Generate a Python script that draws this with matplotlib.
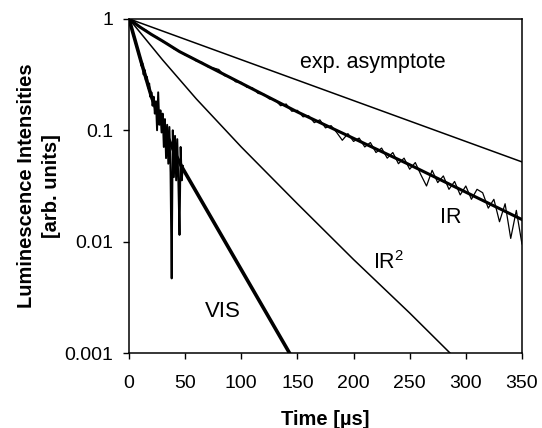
import numpy as np
import matplotlib
matplotlib.use("Agg")
from matplotlib import pyplot as plt

plt.rcParams['font.family'] = ['Liberation Sans', 'DejaVu Sans']
plt.rcParams['mathtext.fontset'] = 'custom'
plt.rcParams['mathtext.rm'] = 'Liberation Sans'

# VIS luminescence trace (noisy), 1 us steps
vis_t = np.arange(0, 49, 1)
vis_data = [1.0, 0.933, 0.832, 0.794, 0.708, 0.676, 0.603, 0.562, 0.525, 0.468,
            0.447, 0.380, 0.398, 0.316, 0.347, 0.282, 0.302, 0.240, 0.263, 0.200,
            0.219, 0.166, 0.200, 0.141, 0.182, 0.100, 0.219, 0.112, 0.151, 0.0955,
            0.141, 0.0708, 0.126, 0.0562, 0.112, 0.0501, 0.107, 0.0417, 0.00468, 0.100,
            0.0380, 0.0891, 0.0355, 0.0832, 0.0331, 0.0115, 0.0708, 0.0355, 0.0479]

# VIS fit curve
vis_fit_t = [0, 10, 20, 30, 40, 47, 143]
vis_fit = [1.0, 0.44, 0.20, 0.11, 0.065, 0.047, 0.001]

# IR luminescence trace (noisy), 5 us steps
ir_t = np.arange(0, 351, 5)
ir_data = [1.0, 0.923, 0.832, 0.794, 0.716, 0.684, 0.624, 0.596, 0.537, 0.513,
           0.473, 0.457, 0.417, 0.407, 0.372, 0.363, 0.351, 0.309, 0.302, 0.272,
           0.269, 0.243, 0.240, 0.214, 0.211, 0.191, 0.188, 0.166, 0.172, 0.148,
           0.151, 0.132, 0.135, 0.117, 0.124, 0.105, 0.110, 0.0955, 0.0813, 0.0933,
           0.0794, 0.0851, 0.0708, 0.0776, 0.0631, 0.0692, 0.0562, 0.0631, 0.0501, 0.0562,
           0.0447, 0.0513, 0.0398, 0.0316, 0.0437, 0.0339, 0.0389, 0.0295, 0.0347, 0.0263,
           0.0316, 0.0240, 0.0295, 0.0275, 0.0200, 0.0240, 0.0151, 0.0219, 0.0107, 0.0191,
           0.00955]

# IR fit, IR squared and exponential asymptote
ir_fit_t = [0, 10, 20, 30, 45, 150, 250, 350]
ir_fit = [1.0, 0.841, 0.724, 0.631, 0.508, 0.146, 0.049, 0.0158]
ir2_t = [0, 30, 60, 100, 150, 200, 250, 286]
ir2 = [1.0, 0.427, 0.191, 0.0708, 0.0219, 0.00692, 0.00229, 0.001]
asym_t = [0, 350]
asym = [1.0, 0.052]

fig = plt.figure(figsize=(5.42, 4.28), dpi=100)
ax = fig.add_axes([0.238, 0.175, 0.725, 0.781])

ax.plot(asym_t, asym, color='black', lw=1.1)
ax.plot(ir2_t, ir2, color='black', lw=1.1)
ax.plot(ir_t, ir_data, color='black', lw=0.9)
ax.plot(ir_fit_t, ir_fit, color='black', lw=2.2)
ax.plot(vis_fit_t, vis_fit, color='black', lw=2.6)
ax.plot(vis_t, vis_data, color='black', lw=1.4)

ax.set_yscale('log')
ax.set_xlim(0, 350)
ax.set_ylim(0.001, 1)
ax.set_xticks([0, 50, 100, 150, 200, 250, 300, 350])
ax.set_yticks([0.001, 0.01, 0.1, 1])
ax.set_yticklabels(['0.001', '0.01', '0.1', '1'])
ax.yaxis.set_minor_locator(matplotlib.ticker.NullLocator())
ax.tick_params(axis='x', direction='out', length=4, width=1, pad=12, labelsize=14)
ax.tick_params(axis='y', direction='out', length=4.5, width=1, pad=7, labelsize=14)
for s in ax.spines.values():
    s.set_linewidth(1.1)

ax.text(152, 0.363, 'exp. asymptote', fontsize=15.5, va='baseline')
ax.text(277, 0.0147, 'IR', fontsize=15.5, va='baseline')
ax.text(217, 0.00567, r'IR$^{2}$', fontsize=15.5, va='baseline')
ax.text(68, 0.00211, 'VIS', fontsize=16, va='baseline')

ax.set_xlabel('Time [\u00b5s]', fontsize=14.5, fontweight='bold', labelpad=13)
ax.set_ylabel('Luminescence Intensities\n[arb. units]', fontsize=14.5,
              fontweight='bold', labelpad=2, linespacing=1.4)

fig.savefig('out.png', dpi=100)
